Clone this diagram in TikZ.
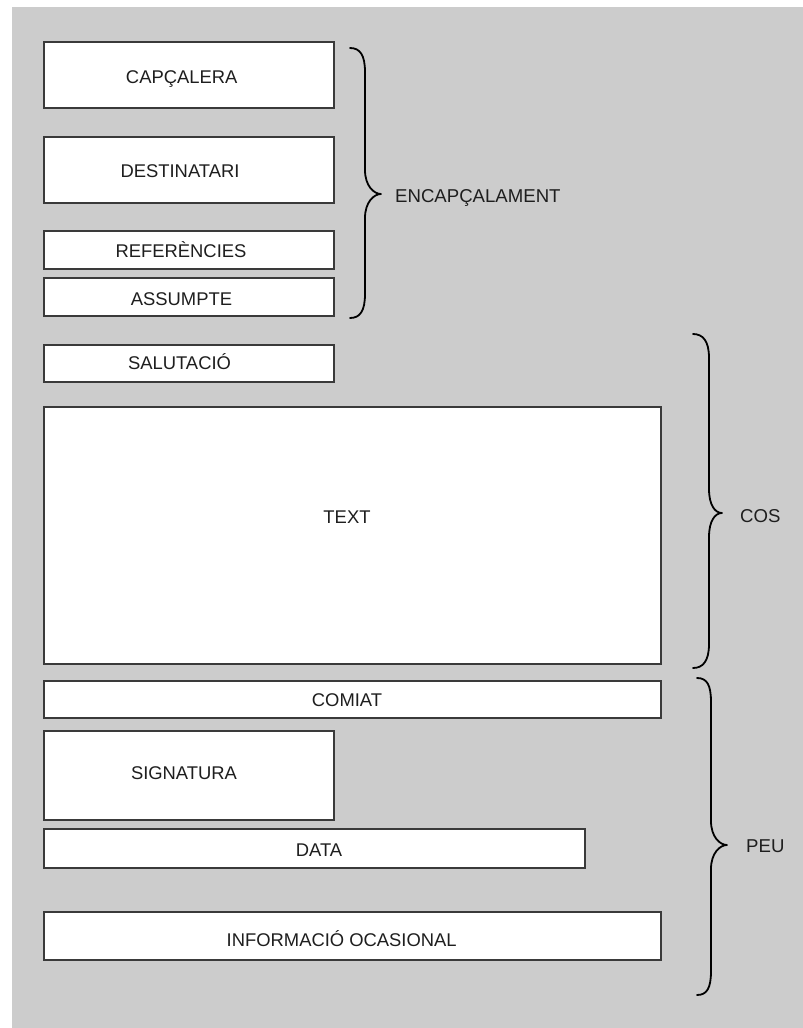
\documentclass[tikz,border=0pt]{standalone}
\usepackage{fontspec}
\setmainfont{Liberation Sans}
\definecolor{panel}{HTML}{CCCCCC}
\definecolor{edge}{HTML}{3A3A3A}
\definecolor{ink}{HTML}{1E1E1E}
\tikzset{
  part/.style={draw=edge, fill=white, line width=1.2pt, inner sep=0pt},
  lbl/.style={text=ink, anchor=base, inner sep=0pt, font=\fontsize{18.4}{22}\selectfont},
  grp/.style={text=ink, anchor=base west, inner sep=0pt, font=\fontsize{18.6}{22}\selectfont},
  bracestroke/.style={draw=black, line width=1.8pt, line cap=round, line join=round}
}
% box from (x1,y1) to (x2,y2), label with base centre at (tx,ty)
\newcommand{\partbox}[8]{%
  \node[part, minimum width={#4-#2}, minimum height={#5-#3}] (#1) at ({(#2+#4)/2},{(#3+#5)/2}) {};
  \node[lbl] (#1-t) at (#6,#7) {#8};}
% curly brace: end x, stem x, tip x, top y, tip y, bottom y
\newcommand{\curlybrace}[6]{%
  \draw[bracestroke] (#1,#4) .. controls ({#1+10},#4) and (#2,{#4+7}) .. (#2,{#4+24})
    -- (#2,{#5-24}) .. controls (#2,{#5-8}) and ({#3-7},#5) .. (#3,#5)
    .. controls ({#3-7},#5) and (#2,{#5+8}) .. (#2,{#5+24})
    -- (#2,{#6-24}) .. controls (#2,{#6-7}) and ({#1+10},#6) .. (#1,#6);}
\begin{document}
\begin{tikzpicture}[x=1pt, y=-1pt]
  \useasboundingbox (0,0) rectangle (803,1028);
  \fill[panel] (12,7) rectangle (803,1028);

  \partbox{cap}{44}{42}{334}{108}{181.7}{83.3}{CAPÇALERA}
  \partbox{dest}{44}{137}{334}{203}{180}{177.5}{DESTINATARI}
  \partbox{ref}{44}{231}{334}{269}{181}{257.5}{REFERÈNCIES}
  \partbox{ass}{44}{278}{334}{316}{181.5}{305}{ASSUMPTE}
  \partbox{sal}{44}{345}{334}{382}{179.5}{369}{SALUTACIÓ}
  \partbox{txt}{44}{407}{661}{664}{347}{523.3}{TEXT}
  \partbox{com}{44}{681}{661}{718}{347}{706}{COMIAT}
  \partbox{sig}{44}{731}{334}{820}{184}{779}{SIGNATURA}
  \partbox{dat}{44}{829}{585}{868}{319}{856}{DATA}
  \partbox{inf}{44}{912}{661}{960}{341.7}{946.7}{INFORMACIÓ OCASIONAL}

  \curlybrace{350}{365}{381}{48}{194}{318}
  \curlybrace{693}{709}{722}{334}{513}{668}
  \curlybrace{697}{711}{727}{678}{845}{995}

  \node[grp] (enc) at (395,202.7) {ENCAPÇALAMENT};
  \node[grp] (cos) at (740,522.7) {COS};
  \node[grp] (peu) at (746,852.7) {PEU};
\end{tikzpicture}
\end{document}
